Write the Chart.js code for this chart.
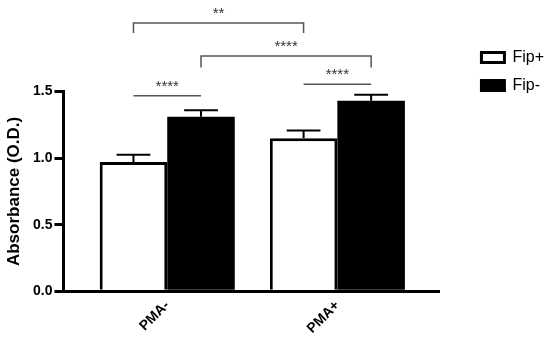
<!DOCTYPE html>
<html>
<head>
<meta charset="utf-8">
<script src="https://cdn.jsdelivr.net/npm/chart.js@4.4.0/dist/chart.umd.min.js"></script>
<style>
  html, body { margin: 0; padding: 0; background: #fff; }
  #wrap { width: 550px; height: 340px; }
</style>
</head>
<body>
<div id="wrap"><canvas id="chart"></canvas></div>
<script>
'use strict';

const groups = ['PMA-', 'PMA+'];
const fipPlus = [0.97, 1.15];
const fipPlusErr = [0.055, 0.058];
const fipMinus = [1.31, 1.43];
const fipMinusErr = [0.05, 0.045];
const yTicks = [0, 0.5, 1.0, 1.5];

// significance bars, ends given as [dataset, group]
const sigFrom = [[0, 0], [0, 1], [1, 0], [0, 0]];
const sigTo = [[1, 0], [1, 1], [1, 1], [0, 1]];
const sigLevel = [1.468, 1.554, 1.766, 2.015];
const sigLeg = [0, 0, 0.085, 0.075];
const sigText = ['****', '****', '****', '**'];

const FONT = 'Arial, "Liberation Sans", sans-serif';
Chart.defaults.font.family = FONT;

const errorBars = {
  id: 'errorBars',
  afterDatasetsDraw(chart) {
    const { ctx, scales: { y } } = chart;
    const errs = [fipPlusErr, fipMinusErr];
    ctx.save();
    ctx.strokeStyle = '#000';
    ctx.lineWidth = 2;
    chart.data.datasets.forEach((ds, i) => {
      chart.getDatasetMeta(i).data.forEach((bar, j) => {
        const v = ds.data[j].y;
        const top = y.getPixelForValue(v);
        const end = y.getPixelForValue(v + errs[i][j]);
        const half = bar.width * 0.25;
        ctx.beginPath();
        ctx.moveTo(bar.x, top);
        ctx.lineTo(bar.x, end);
        ctx.moveTo(bar.x - half, end);
        ctx.lineTo(bar.x + half, end);
        ctx.stroke();
      });
    });
    ctx.restore();
  }
};

const sigBars = {
  id: 'sigBars',
  afterDraw(chart) {
    const { ctx, scales: { y } } = chart;
    ctx.save();
    ctx.strokeStyle = '#555';
    ctx.lineWidth = 1.5;
    ctx.fillStyle = '#333';
    ctx.font = '15px ' + FONT;
    ctx.textAlign = 'center';
    ctx.textBaseline = 'alphabetic';
    sigText.forEach((txt, k) => {
      const a = chart.getDatasetMeta(sigFrom[k][0]).data[sigFrom[k][1]];
      const b = chart.getDatasetMeta(sigTo[k][0]).data[sigTo[k][1]];
      const ly = y.getPixelForValue(sigLevel[k]);
      const legY = y.getPixelForValue(sigLevel[k] - sigLeg[k]);
      ctx.beginPath();
      ctx.moveTo(a.x, legY);
      ctx.lineTo(a.x, ly);
      ctx.lineTo(b.x, ly);
      ctx.lineTo(b.x, legY);
      ctx.stroke();
      ctx.fillText(txt, (a.x + b.x) / 2, ly - 5);
    });
    ctx.restore();
  }
};

const toPoints = vals => groups.map((g, i) => ({ x: i, y: vals[i] }));

new Chart(document.getElementById('chart'), {
  type: 'bar',
  data: {
    datasets: [{
      label: 'Fip+',
      data: toPoints(fipPlus),
      backgroundColor: '#fff',
      borderColor: '#000',
      borderWidth: 3,
      xAxisID: 'x',
      yAxisID: 'y',
      categoryPercentage: 0.794,
      barPercentage: 1
    }, {
      label: 'Fip-',
      data: toPoints(fipMinus),
      backgroundColor: '#000',
      borderWidth: 0,
      xAxisID: 'x',
      yAxisID: 'y',
      categoryPercentage: 0.794,
      barPercentage: 1
    }]
  },
  options: {
    responsive: true,
    maintainAspectRatio: false,
    animation: false,
    devicePixelRatio: 1,
    layout: { padding: { top: 37.5, right: -4, left: 2.6, bottom: 1 } },
    plugins: {
      legend: {
        position: 'right',
        align: 'start',
        labels: {
          boxWidth: 23,
          boxHeight: 10,
          padding: 12,
          color: '#000',
          font: { size: 16 },
          // same outlined box size for both entries
          generateLabels: chart => Chart.defaults.plugins.legend.labels.generateLabels(chart)
            .map(item => ({ ...item, lineWidth: 3, strokeStyle: '#000' }))
        }
      },
      tooltip: { enabled: false }
    },
    scales: {
      x: {
        type: 'linear',
        offset: false,
        min: -0.61,
        max: 1.6,
        afterBuildTicks: s => { s.ticks = groups.map((g, i) => ({ value: i })); },
        ticks: {
          callback: v => groups[v],
          minRotation: 45,
          maxRotation: 45,
          autoSkip: false,
          padding: 2,
          color: '#000',
          font: { size: 14, weight: 'bold' }
        },
        grid: { display: false, offset: false, drawTicks: true, tickLength: 4 },
        border: { display: true, color: '#000', width: 3 }
      },
      y: {
        type: 'linear',
        min: 0,
        max: 1.5,
        afterBuildTicks: s => { s.ticks = yTicks.map(v => ({ value: v })); },
        ticks: {
          callback: v => v.toFixed(1),
          padding: 2,
          color: '#000',
          font: { size: 14, weight: 'bold' }
        },
        grid: { drawOnChartArea: false, drawTicks: true, tickLength: 9, color: '#000', lineWidth: 3 },
        border: { color: '#000', width: 3 },
        title: {
          display: true,
          text: 'Absorbance (O.D.)',
          color: '#000',
          font: { size: 17, weight: 'bold' },
          padding: { top: 2, bottom: 6 }
        }
      },
      gapTop: {
        type: 'linear',
        axis: 'x',
        position: 'top',
        ticks: { display: false },
        grid: { display: false, drawTicks: true, tickLength: 54 },
        border: { display: false }
      },
      gapRight: {
        type: 'linear',
        axis: 'y',
        position: 'right',
        ticks: { display: false },
        grid: { display: false, drawTicks: true, tickLength: 30 },
        border: { display: false }
      }
    }
  },
  plugins: [errorBars, sigBars]
});
</script>
</body>
</html>
